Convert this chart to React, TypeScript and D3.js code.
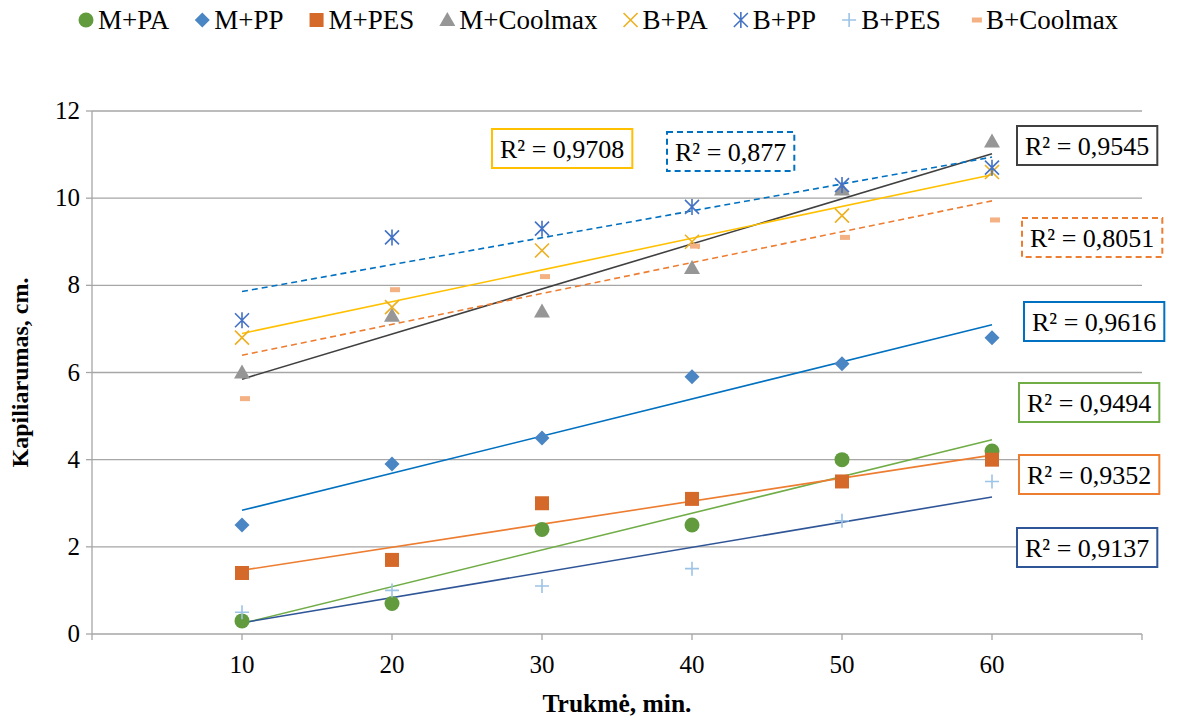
import React, { Component } from "react";
import * as d3 from "d3";

// x values (minutes)
var times = [10, 20, 30, 40, 50, 60];

var seriesNames = ["M+PA", "M+PP", "M+PES", "M+Coolmax", "B+PA", "B+PP", "B+PES", "B+Coolmax"];

// capillarity, cm
var mPA = [0.3, 0.7, 2.4, 2.5, 4.0, 4.2];
var mPP = [2.5, 3.9, 4.5, 5.9, 6.2, 6.8];
var mPES = [1.4, 1.7, 3.0, 3.1, 3.5, 4.0];
var mCoolmax = [6.0, 7.3, 7.4, 8.4, 10.2, 11.3];
var bPA = [6.8, 7.5, 8.8, 9.0, 9.6, 10.6];
var bPP = [7.2, 9.1, 9.3, 9.8, 10.3, 10.7];
var bPES = [0.5, 1.0, 1.1, 1.5, 2.6, 3.5];
var bCoolmax = [5.4, 7.9, 8.2, 8.9, 9.1, 9.5];

var r2Labels = ["R² = 0,9494", "R² = 0,9616", "R² = 0,9352", "R² = 0,9545", "R² = 0,9708", "R² = 0,877", "R² = 0,9137", "R² = 0,8051"];

var yTicks = [0, 2, 4, 6, 8, 10, 12];
var xTicks = [0, 10, 20, 30, 40, 50, 60, 70];
var xLabels = [10, 20, 30, 40, 50, 60];

var FONT = "Liberation Serif, Times New Roman, serif";

class App extends Component {
  ref = React.createRef<SVGSVGElement>();

  componentDidMount() {
    this.drawChart();
  }

  drawChart() {
    var width = 1178;
    var height = 722;

    var allValues = [mPA, mPP, mPES, mCoolmax, bPA, bPP, bPES, bCoolmax];

    // styles per series: marker, marker colour, trendline colour, dashed?
    var styles = [
      { marker: "circle", fill: "#629B3D", line: "#70AD47", dash: false },
      { marker: "diamond", fill: "#4A86C4", line: "#0070C0", dash: false },
      { marker: "square", fill: "#D5692A", line: "#ED7D31", dash: false },
      { marker: "triangle", fill: "#969696", line: "#404040", dash: false },
      { marker: "x", fill: "#EDB021", line: "#FFC000", dash: false },
      { marker: "asterisk", fill: "#4472C4", line: "#0070C0", dash: true },
      { marker: "plus", fill: "#9DC3E6", line: "#2F5597", dash: false },
      { marker: "dash", fill: "#F4B183", line: "#ED7D31", dash: true },
    ];

    // where the R² boxes sit (left, top)
    var boxPos = [
      [1019, 383], [1024, 302], [1019, 455], [1017, 126],
      [492, 129], [667, 132], [1017, 528], [1022, 218],
    ];

    var svg = d3.select(this.ref.current)
      .attr("width", width)
      .attr("height", height)
      .attr("font-family", FONT);

    var x = d3.scaleLinear().domain([0, 70]).range([92, 1142]);
    var y = d3.scaleLinear().domain([0, 12]).range([634, 111]);

    var gridColor = "#A6A6A6";

    // horizontal gridlines
    svg.selectAll(".grid")
      .data(yTicks.filter(d => d > 0))
      .enter()
      .append("line")
      .attr("x1", x(0)).attr("x2", x(70))
      .attr("y1", d => y(d)).attr("y2", d => y(d))
      .attr("stroke", gridColor)
      .attr("stroke-width", 1.3);

    // y axis
    svg.append("line")
      .attr("x1", x(0)).attr("x2", x(0))
      .attr("y1", y(0)).attr("y2", y(12))
      .attr("stroke", gridColor).attr("stroke-width", 1.3);
    svg.selectAll(".ytick")
      .data(yTicks)
      .enter()
      .append("line")
      .attr("x1", x(0) - 6).attr("x2", x(0))
      .attr("y1", d => y(d)).attr("y2", d => y(d))
      .attr("stroke", gridColor).attr("stroke-width", 1.3);
    svg.selectAll(".ylabel")
      .data(yTicks)
      .enter()
      .append("text")
      .attr("x", x(0) - 12)
      .attr("y", d => y(d) + 8)
      .attr("text-anchor", "end")
      .attr("font-family", FONT)
      .attr("font-size", 25)
      .text(d => d);

    // x axis
    svg.append("line")
      .attr("x1", x(0)).attr("x2", x(70))
      .attr("y1", y(0)).attr("y2", y(0))
      .attr("stroke", gridColor).attr("stroke-width", 1.3);
    svg.selectAll(".xtick")
      .data(xTicks)
      .enter()
      .append("line")
      .attr("x1", d => x(d)).attr("x2", d => x(d))
      .attr("y1", y(0)).attr("y2", y(0) + 6)
      .attr("stroke", gridColor).attr("stroke-width", 1.3);
    svg.selectAll(".xlabel")
      .data(xLabels)
      .enter()
      .append("text")
      .attr("x", d => x(d))
      .attr("y", 673)
      .attr("text-anchor", "middle")
      .attr("font-family", FONT)
      .attr("font-size", 25)
      .text(d => d);

    // axis titles
    svg.append("text")
      .attr("x", (x(0) + x(70)) / 2)
      .attr("y", 712)
      .attr("text-anchor", "middle")
      .attr("font-family", FONT)
      .attr("font-size", 25.5)
      .attr("font-weight", "bold")
      .text("Trukmė, min.");
    svg.append("text")
      .attr("transform", "translate(28," + (y(0) + y(12)) / 2 + ") rotate(-90)")
      .attr("text-anchor", "middle")
      .attr("font-family", FONT)
      .attr("font-size", 24)
      .attr("font-weight", "bold")
      .text("Kapiliarumas, cm.");

    // marker drawing
    function drawMarker(g, kind, color, cx, cy) {
      if (kind === "circle") {
        g.append("circle").attr("cx", cx).attr("cy", cy).attr("r", 7.5).attr("fill", color);
      } else if (kind === "diamond") {
        g.append("path").attr("d", "M" + cx + "," + (cy - 7.5) + "L" + (cx + 7.5) + "," + cy + "L" + cx + "," + (cy + 7.5) + "L" + (cx - 7.5) + "," + cy + "Z").attr("fill", color);
      } else if (kind === "square") {
        g.append("rect").attr("x", cx - 7).attr("y", cy - 7).attr("width", 14).attr("height", 14).attr("fill", color);
      } else if (kind === "triangle") {
        g.append("path").attr("d", "M" + cx + "," + (cy - 8) + "L" + (cx + 8) + "," + (cy + 6) + "L" + (cx - 8) + "," + (cy + 6) + "Z").attr("fill", color);
      } else if (kind === "x") {
        g.append("path").attr("d", "M" + (cx - 7) + "," + (cy - 7) + "L" + (cx + 7) + "," + (cy + 7) + "M" + (cx + 7) + "," + (cy - 7) + "L" + (cx - 7) + "," + (cy + 7))
          .attr("stroke", color).attr("stroke-width", 1.6).attr("fill", "none");
      } else if (kind === "asterisk") {
        g.append("path").attr("d", "M" + (cx - 7) + "," + (cy - 7) + "L" + (cx + 7) + "," + (cy + 7) + "M" + (cx + 7) + "," + (cy - 7) + "L" + (cx - 7) + "," + (cy + 7) + "M" + cx + "," + (cy - 8) + "L" + cx + "," + (cy + 8))
          .attr("stroke", color).attr("stroke-width", 1.6).attr("fill", "none");
      } else if (kind === "plus") {
        g.append("path").attr("d", "M" + (cx - 7) + "," + cy + "L" + (cx + 7) + "," + cy + "M" + cx + "," + (cy - 7) + "L" + cx + "," + (cy + 7))
          .attr("stroke", color).attr("stroke-width", 1.6).attr("fill", "none");
      } else if (kind === "dash") {
        g.append("rect").attr("x", cx - 5 + 3).attr("y", cy - 2.5).attr("width", 10).attr("height", 5).attr("fill", color);
      }
    }

    // trendlines (least squares)
    var trendG = svg.append("g");
    allValues.forEach(function (vals, i) {
      var mx = d3.mean(times);
      var my = d3.mean(vals);
      var sxy = d3.sum(times, (t, k) => (t - mx) * (vals[k] - my));
      var sxx = d3.sum(times, t => (t - mx) * (t - mx));
      var slope = sxy / sxx;
      var icpt = my - slope * mx;
      var x0 = d3.min(times), x1 = d3.max(times);
      trendG.append("line")
        .attr("x1", x(x0)).attr("y1", y(icpt + slope * x0))
        .attr("x2", x(x1)).attr("y2", y(icpt + slope * x1))
        .attr("stroke", styles[i].line)
        .attr("stroke-width", 1.6)
        .attr("stroke-dasharray", styles[i].dash ? "6,4" : null);
    });

    // markers
    var markG = svg.append("g");
    allValues.forEach(function (vals, i) {
      vals.forEach(function (v, k) {
        drawMarker(markG, styles[i].marker, styles[i].fill, x(times[k]), y(v));
      });
    });

    // R² boxes
    var boxG = svg.append("g");
    r2Labels.forEach(function (lab, i) {
      var bx = boxPos[i][0], by = boxPos[i][1];
      var t = boxG.append("text")
        .attr("y", by + 29)
        .attr("text-anchor", "middle")
        .attr("font-family", FONT)
        .attr("font-size", 26)
        .text(lab);
      var w = t.node().getComputedTextLength() + 16;
      t.attr("x", bx + w / 2);
      boxG.insert("rect", "text")
        .attr("x", bx).attr("y", by)
        .attr("width", w).attr("height", 39)
        .attr("fill", "white")
        .attr("stroke", styles[i].line)
        .attr("stroke-width", 2)
        .attr("stroke-dasharray", styles[i].dash ? "6,4" : null);
    });

    // legend, flowed left to right
    var legG = svg.append("g");
    var lx = 86;
    seriesNames.forEach(function (name, i) {
      drawMarker(legG, styles[i].marker, styles[i].fill, lx, 20);
      var t = legG.append("text")
        .attr("x", lx + 12)
        .attr("y", 29)
        .attr("font-family", FONT)
        .attr("font-size", 27)
        .text(name);
      lx = lx + 12 + t.node().getComputedTextLength() + 33;
    });
  }

  render() {
    return (
      <svg ref={this.ref} style={{ position: "absolute", left: 0, top: 0, background: "white" }}></svg>
    );
  }
}

export default App;
